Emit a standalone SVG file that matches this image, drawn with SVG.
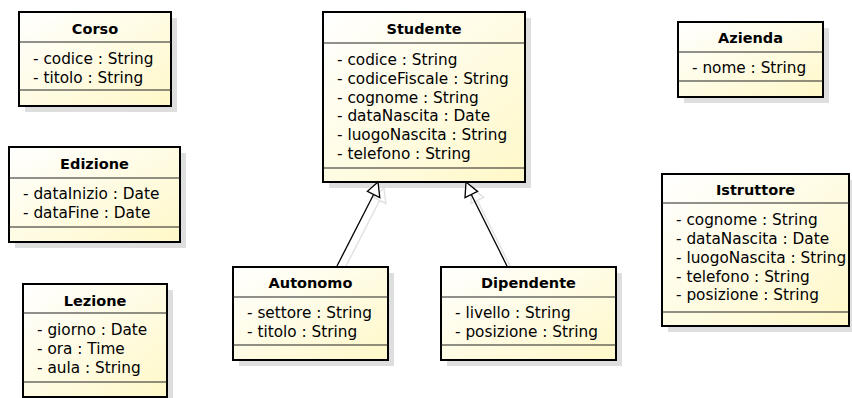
<svg xmlns="http://www.w3.org/2000/svg" width="852" height="398" viewBox="0 0 852 398">
<style>
.shadow{fill:#dedede;stroke:none}
.box{fill:url(#g);stroke:#000;stroke-width:2}
.sep{stroke:#222;stroke-width:1.2;fill:none}
.title{font-family:"DejaVu Sans",sans-serif;font-weight:bold;font-size:14.5px;text-anchor:middle;fill:#000}
.attr{font-family:"DejaVu Sans",sans-serif;font-size:15.3px;fill:#000}
.conn{stroke:#000;stroke-width:1.3;fill:none}
.head{stroke:#000;stroke-width:1.3;fill:#fff}
.cshadow{stroke:#e2e2e2;stroke-width:1.5;fill:none}
</style>
<defs>
<linearGradient id="g" x1="0" y1="0" x2="1" y2="1">
<stop offset="0" stop-color="#ffffff"/>
<stop offset="1" stop-color="#fff8c8"/>
</linearGradient>
</defs>
<g id="connector-shadows">
<path class="cshadow" d="M343,272 L379.6,200.5 M384,188 L373.4,197.3 L385.8,203.7 Z"/>
<path class="cshadow" d="M513,272 L477.3,200.5 M472,188 L471,203.6 L483.6,197.4 Z"/>
</g>
<g id="Corso">
<rect class="shadow" x="25" y="18" width="152" height="94"/>
<rect class="box" x="19" y="12" width="152" height="94"/>
<line class="sep" x1="19" y1="42" x2="171" y2="42"/>
<line class="sep" x1="19" y1="90" x2="171" y2="90"/>
<text class="title" x="95" y="34">Corso</text>
<text class="attr" x="33" y="64">- codice : String</text>
<text class="attr" x="33" y="83">- titolo : String</text>
</g>
<g id="Edizione">
<rect class="shadow" x="15" y="153" width="171" height="95"/>
<rect class="box" x="9" y="147" width="171" height="95"/>
<line class="sep" x1="9" y1="178" x2="180" y2="178"/>
<line class="sep" x1="9" y1="227" x2="180" y2="227"/>
<text class="title" x="94.5" y="169">Edizione</text>
<text class="attr" x="23" y="199">- dataInizio : Date</text>
<text class="attr" x="23" y="218">- dataFine : Date</text>
</g>
<g id="Lezione">
<rect class="shadow" x="29" y="290" width="144" height="113"/>
<rect class="box" x="23" y="284" width="144" height="113"/>
<line class="sep" x1="23" y1="313" x2="167" y2="313"/>
<line class="sep" x1="23" y1="382" x2="167" y2="382"/>
<text class="title" x="95" y="306">Lezione</text>
<text class="attr" x="37" y="335">- giorno : Date</text>
<text class="attr" x="37" y="354">- ora : Time</text>
<text class="attr" x="37" y="373">- aula : String</text>
</g>
<g id="Studente">
<rect class="shadow" x="329" y="18" width="202" height="170"/>
<rect class="box" x="323" y="12" width="202" height="170"/>
<line class="sep" x1="323" y1="43" x2="525" y2="43"/>
<line class="sep" x1="323" y1="168" x2="525" y2="168"/>
<text class="title" x="424" y="34">Studente</text>
<text class="attr" x="337" y="65">- codice : String</text>
<text class="attr" x="337" y="84">- codiceFiscale : String</text>
<text class="attr" x="337" y="103">- cognome : String</text>
<text class="attr" x="337" y="121">- dataNascita : Date</text>
<text class="attr" x="337" y="140">- luogoNascita : String</text>
<text class="attr" x="337" y="159">- telefono : String</text>
</g>
<g id="Autonomo">
<rect class="shadow" x="239" y="273" width="155" height="93"/>
<rect class="box" x="233" y="267" width="155" height="93"/>
<line class="sep" x1="233" y1="297" x2="388" y2="297"/>
<line class="sep" x1="233" y1="345" x2="388" y2="345"/>
<text class="title" x="310.5" y="288">Autonomo</text>
<text class="attr" x="247" y="318">- settore : String</text>
<text class="attr" x="247" y="337">- titolo : String</text>
</g>
<g id="Dipendente">
<rect class="shadow" x="447" y="273" width="175" height="93"/>
<rect class="box" x="441" y="267" width="175" height="93"/>
<line class="sep" x1="441" y1="297" x2="616" y2="297"/>
<line class="sep" x1="441" y1="345" x2="616" y2="345"/>
<text class="title" x="528.5" y="288">Dipendente</text>
<text class="attr" x="455" y="318">- livello : String</text>
<text class="attr" x="455" y="337">- posizione : String</text>
</g>
<g id="Azienda">
<rect class="shadow" x="684" y="28" width="145" height="75"/>
<rect class="box" x="678" y="22" width="145" height="75"/>
<line class="sep" x1="678" y1="52" x2="823" y2="52"/>
<line class="sep" x1="678" y1="81" x2="823" y2="81"/>
<text class="title" x="750.5" y="43">Azienda</text>
<text class="attr" x="692" y="73">- nome : String</text>
</g>
<g id="Istruttore">
<rect class="shadow" x="668" y="180" width="187" height="152"/>
<rect class="box" x="662" y="174" width="187" height="152"/>
<line class="sep" x1="662" y1="203" x2="849" y2="203"/>
<line class="sep" x1="662" y1="312" x2="849" y2="312"/>
<text class="title" x="755.5" y="195">Istruttore</text>
<text class="attr" x="676" y="225">- cognome : String</text>
<text class="attr" x="676" y="244">- dataNascita : Date</text>
<text class="attr" x="676" y="263">- luogoNascita : String</text>
<text class="attr" x="676" y="282">- telefono : String</text>
<text class="attr" x="676" y="300">- posizione : String</text>
</g>
<g id="connectors">
<line class="conn" x1="337" y1="266" x2="373.6" y2="194.5"/>
<polygon class="head" points="378,182 367.4,191.3 379.8,197.7"/>
<line class="conn" x1="507" y1="266" x2="471.3" y2="194.5"/>
<polygon class="head" points="466,182 465,197.6 477.6,191.4"/>
</g>
</svg>
